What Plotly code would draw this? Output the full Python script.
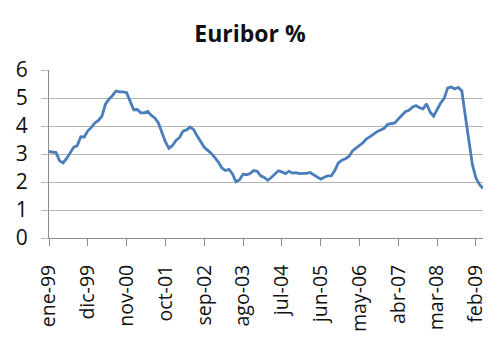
import plotly.graph_objects as go

# Monthly 12-month Euribor averages, Jan 1999 - Apr 2009
months_es = ["ene", "feb", "mar", "abr", "may", "jun", "jul", "ago", "sep", "oct", "nov", "dic"]
years = list(range(1999, 2010))
month_labels = [f"{m}-{str(y)[2:]}" for y in years for m in months_es][:124]

euribor = [
    3.09, 3.08, 3.05, 2.76, 2.68, 2.84, 3.03, 3.24, 3.30, 3.62, 3.61, 3.83,
    3.95, 4.11, 4.20, 4.35, 4.78, 4.96, 5.09, 5.25, 5.22, 5.22, 5.19, 4.88,
    4.58, 4.59, 4.47, 4.47, 4.52, 4.38, 4.29, 4.11, 3.77, 3.43, 3.20, 3.30,
    3.48, 3.59, 3.82, 3.86, 3.96, 3.87, 3.64, 3.45, 3.24, 3.13, 3.02, 2.87,
    2.71, 2.50, 2.41, 2.45, 2.29, 2.01, 2.08, 2.28, 2.26, 2.30, 2.41, 2.38,
    2.22, 2.16, 2.06, 2.16, 2.30, 2.40, 2.36, 2.30, 2.38, 2.32, 2.33, 2.30,
    2.31, 2.31, 2.34, 2.27, 2.19, 2.10, 2.17, 2.22, 2.22, 2.41, 2.68, 2.78,
    2.83, 2.91, 3.11, 3.22, 3.31, 3.40, 3.54, 3.62, 3.72, 3.80, 3.86, 3.92,
    4.06, 4.09, 4.11, 4.25, 4.37, 4.51, 4.56, 4.67, 4.73, 4.65, 4.61, 4.79,
    4.50, 4.35, 4.59, 4.82, 4.99, 5.36, 5.39, 5.32, 5.38, 5.25, 4.35, 3.45,
    2.62, 2.14, 1.91, 1.77,
]

tick_labels = month_labels[::11]
y_ticks = [0, 1, 2, 3, 4, 5, 6]

fig = go.Figure(
    go.Scatter(
        x=month_labels,
        y=euribor,
        mode="lines",
        line=dict(color="#4a7ebb", width=2.8),
        hoverinfo="x+y",
    )
)

font_family = "Open Sans, DejaVu Sans, sans-serif"

fig.update_layout(
    width=500,
    height=348,
    margin=dict(l=49, r=15, t=70, b=110),
    paper_bgcolor="white",
    plot_bgcolor="white",
    showlegend=False,
    title=dict(
        text="<b>Euribor %</b>",
        x=0.5,
        xanchor="center",
        y=0.903,
        yanchor="middle",
        font=dict(family=font_family, size=23, color="#111111"),
    ),
)

fig.update_xaxes(
    type="category",
    range=[0, len(euribor) - 1],
    tickvals=tick_labels,
    tickangle=-90,
    ticks="outside",
    ticklen=7,
    tickcolor="#8c8c8c",
    showline=True,
    linecolor="#8c8c8c",
    linewidth=1,
    showgrid=False,
    zeroline=False,
    ticklabelstandoff=11,
    tickfont=dict(family=font_family, size=19.5, color="#111111"),
)

fig.update_yaxes(
    range=[0, 6],
    tickvals=y_ticks,
    ticks="outside",
    ticklen=7,
    tickcolor="#b4b4b4",
    showline=True,
    linecolor="#8c8c8c",
    linewidth=1,
    showgrid=True,
    gridcolor="#b4b4b4",
    gridwidth=1,
    zeroline=False,
    ticklabelstandoff=9,
    tickfont=dict(family=font_family, size=21, color="#111111"),
)

fig.write_html("out.html")
